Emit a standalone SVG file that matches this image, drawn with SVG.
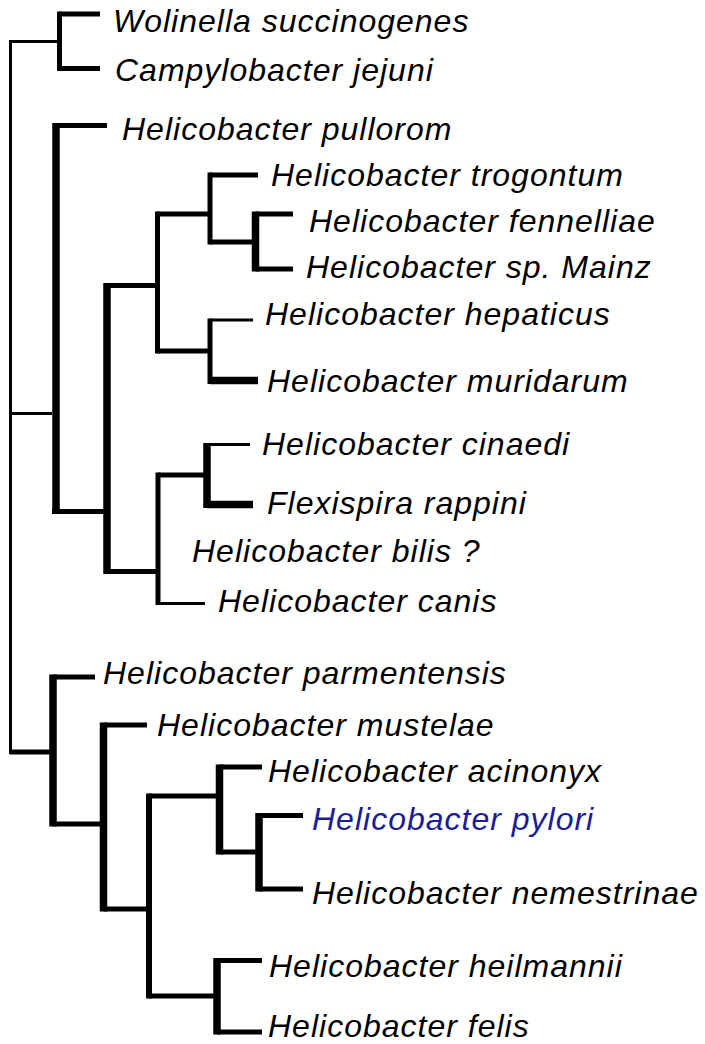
<svg xmlns="http://www.w3.org/2000/svg" width="705" height="1044" viewBox="0 0 705 1044">
<style>
.bg{fill:#fff}
.t{stroke:#000;stroke-width:3;fill:none}
.m{stroke:#000;stroke-width:5;fill:none}
.k{stroke:#000;stroke-width:7.5;fill:none}
.v{stroke:#000;stroke-width:6;fill:none}
text{font-family:"Liberation Sans",Arial,sans-serif;font-style:italic;font-size:32px;letter-spacing:1px;fill:#000}
.blue{fill:#1c1c96}
</style>
<rect class="bg" x="0" y="0" width="705" height="1044"/>
<g id="connectors">
<line class="t" x1="10.5" y1="40" x2="10.5" y2="754"/>
<line class="t" x1="10" y1="41.5" x2="59.5" y2="41.5"/>
<line class="m" x1="59.5" y1="11.5" x2="59.5" y2="71"/>
<line class="m" x1="59.5" y1="14" x2="100" y2="14"/>
<line class="m" x1="59.5" y1="68.5" x2="100" y2="68.5"/>
<line class="t" x1="10" y1="413.5" x2="52" y2="413.5"/>
<line class="k" x1="56" y1="123" x2="56" y2="514"/>
<line class="m" x1="56" y1="125.5" x2="107" y2="125.5"/>
<line class="m" x1="52" y1="511.5" x2="107" y2="511.5"/>
<line class="k" x1="107" y1="283" x2="107" y2="574"/>
<line class="m" x1="107" y1="285.5" x2="157.5" y2="285.5"/>
<line class="m" x1="157.5" y1="211.5" x2="157.5" y2="353.5"/>
<line class="m" x1="157.5" y1="214" x2="210" y2="214"/>
<line class="m" x1="210" y1="172.5" x2="210" y2="244.5"/>
<line class="m" x1="210" y1="175" x2="258" y2="175"/>
<line class="m" x1="210" y1="242" x2="255.5" y2="242"/>
<line class="k" x1="255.5" y1="211.5" x2="255.5" y2="271.5"/>
<line class="m" x1="255.5" y1="214" x2="293" y2="214"/>
<line class="m" x1="255.5" y1="269" x2="293" y2="269"/>
<line class="m" x1="157.5" y1="351" x2="210" y2="351"/>
<line class="m" x1="210" y1="318.5" x2="210" y2="384"/>
<line class="t" x1="210" y1="320" x2="253" y2="320"/>
<line class="k" x1="210" y1="380.5" x2="258" y2="380.5"/>
<line class="m" x1="107" y1="571.5" x2="158" y2="571.5"/>
<line class="m" x1="158" y1="472.5" x2="158" y2="605"/>
<line class="m" x1="158" y1="475" x2="207" y2="475"/>
<line class="k" x1="207" y1="443" x2="207" y2="508"/>
<line class="t" x1="207" y1="444.5" x2="250" y2="444.5"/>
<line class="k" x1="207" y1="504.5" x2="253" y2="504.5"/>
<line class="t" x1="158" y1="603.5" x2="205" y2="603.5"/>
<line class="m" x1="10" y1="752" x2="53" y2="752"/>
<line class="k" x1="53" y1="674.5" x2="53" y2="826.5"/>
<line class="m" x1="53" y1="677" x2="95" y2="677"/>
<line class="m" x1="53" y1="824" x2="103.5" y2="824"/>
<line class="k" x1="103.5" y1="722.5" x2="103.5" y2="911.5"/>
<line class="m" x1="103.5" y1="725" x2="147" y2="725"/>
<line class="m" x1="103.5" y1="909" x2="149" y2="909"/>
<line class="v" x1="149" y1="793.5" x2="149" y2="998.5"/>
<line class="m" x1="149" y1="796" x2="219.5" y2="796"/>
<line class="k" x1="219.5" y1="764.5" x2="219.5" y2="854.5"/>
<line class="m" x1="219.5" y1="767" x2="262" y2="767"/>
<line class="m" x1="219.5" y1="852" x2="259" y2="852"/>
<line class="k" x1="259" y1="813" x2="259" y2="891.5"/>
<line class="m" x1="259" y1="815.5" x2="303" y2="815.5"/>
<line class="m" x1="259" y1="889" x2="303" y2="889"/>
<line class="m" x1="149" y1="996" x2="217" y2="996"/>
<line class="k" x1="217" y1="958" x2="217" y2="1034.5"/>
<line class="m" x1="217" y1="960.5" x2="262" y2="960.5"/>
<line class="m" x1="217" y1="1032" x2="262" y2="1032"/>
</g>
<g id="n-wolinella"><text x="113" y="32">Wolinella succinogenes</text></g>
<g id="n-campylobacter"><text x="115" y="81">Campylobacter jejuni</text></g>
<g id="n-pullorom"><text x="122" y="140">Helicobacter pullorom</text></g>
<g id="n-trogontum"><text x="271" y="186">Helicobacter trogontum</text></g>
<g id="n-fennelliae"><text x="309" y="232">Helicobacter fennelliae</text></g>
<g id="n-mainz"><text x="306" y="278">Helicobacter sp. Mainz</text></g>
<g id="n-hepaticus"><text x="265" y="325">Helicobacter hepaticus</text></g>
<g id="n-muridarum"><text x="267" y="392">Helicobacter muridarum</text></g>
<g id="n-cinaedi"><text x="262" y="455">Helicobacter cinaedi</text></g>
<g id="n-flexispira"><text x="267" y="514">Flexispira rappini</text></g>
<g id="n-bilis"><text x="192" y="562">Helicobacter bilis ?</text></g>
<g id="n-canis"><text x="218" y="612">Helicobacter canis</text></g>
<g id="n-parmentensis"><text x="103" y="684">Helicobacter parmentensis</text></g>
<g id="n-mustelae"><text x="157" y="736">Helicobacter mustelae</text></g>
<g id="n-acinonyx"><text x="268" y="782">Helicobacter acinonyx</text></g>
<g id="n-pylori"><text class="blue" x="312" y="830">Helicobacter pylori</text></g>
<g id="n-nemestrinae"><text x="312" y="904">Helicobacter nemestrinae</text></g>
<g id="n-heilmannii"><text x="269" y="977">Helicobacter heilmannii</text></g>
<g id="n-felis"><text x="268" y="1037">Helicobacter felis</text></g>
</svg>
